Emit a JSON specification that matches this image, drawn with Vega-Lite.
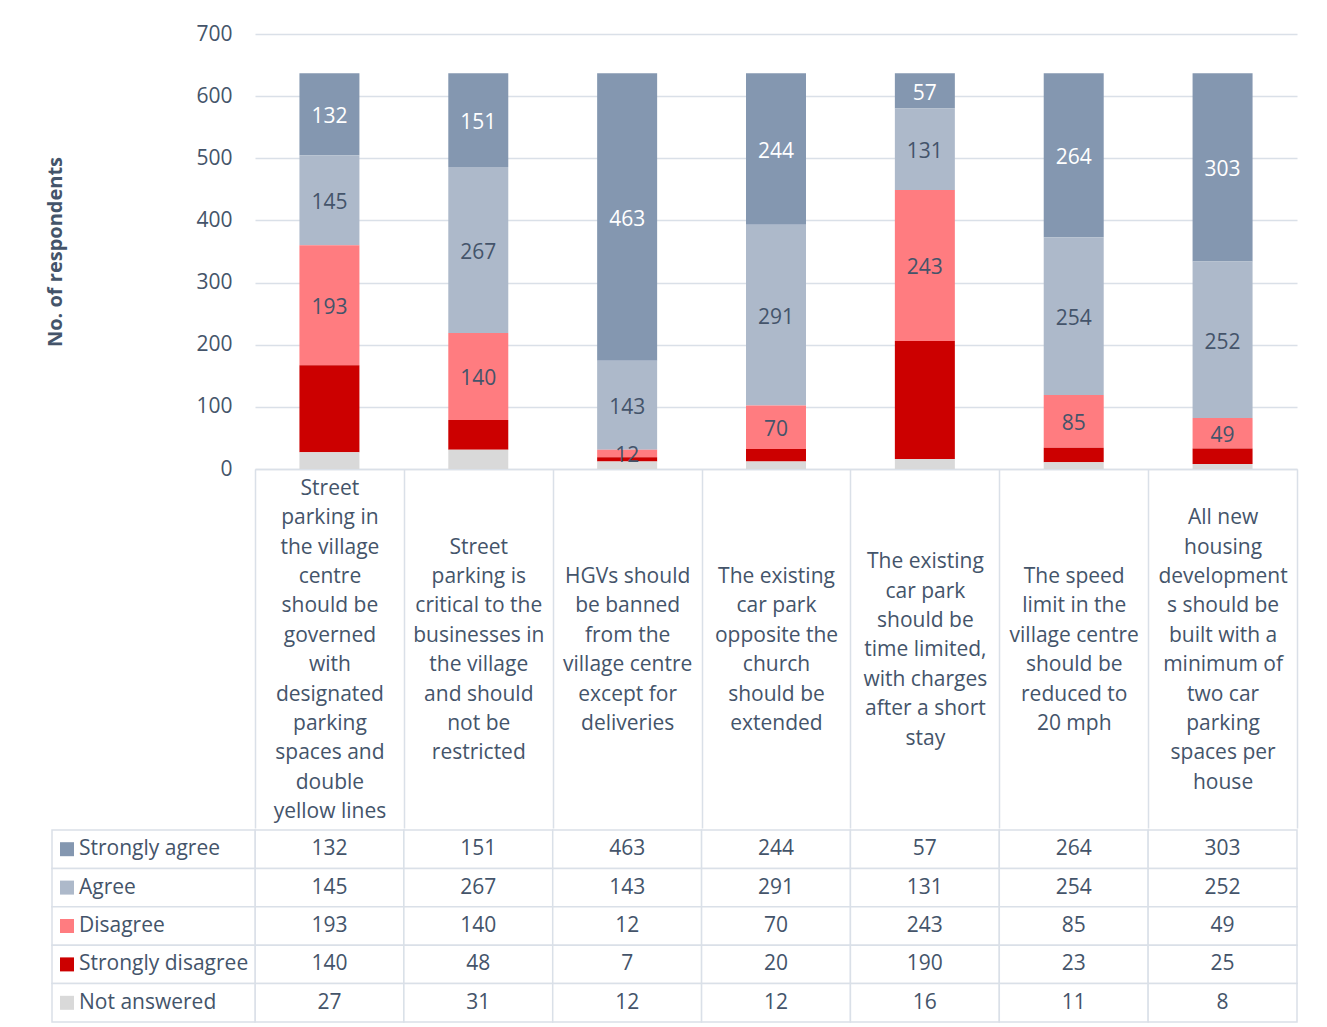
{
  "$schema": "https://vega.github.io/schema/vega-lite/v6.json",
  "padding": {"left": 45, "top": 23, "right": 5, "bottom": 5},
  "background": "white",
  "spacing": 0,
  "config": {"font": "Open Sans", "view": {"stroke": null}},
  "datasets": {
    "responses": [
      {"cat": "Street|parking in|the village|centre|should be|governed|with|designated|parking|spaces and|double|yellow lines", "series": "Strongly agree", "rank": 1, "value": 132},
      {"cat": "Street|parking is|critical to the|businesses in|the village|and should|not be|restricted", "series": "Strongly agree", "rank": 1, "value": 151},
      {"cat": "HGVs should|be banned|from the|village centre|except for|deliveries", "series": "Strongly agree", "rank": 1, "value": 463},
      {"cat": "The existing|car park|opposite the|church|should be|extended", "series": "Strongly agree", "rank": 1, "value": 244},
      {"cat": "The existing|car park|should be|time limited,|with charges|after a short|stay", "series": "Strongly agree", "rank": 1, "value": 57},
      {"cat": "The speed|limit in the|village centre|should be|reduced to|20 mph", "series": "Strongly agree", "rank": 1, "value": 264},
      {"cat": "All new|housing|development|s should be|built with a|minimum of|two car|parking|spaces per|house", "series": "Strongly agree", "rank": 1, "value": 303},
      {"cat": "Street|parking in|the village|centre|should be|governed|with|designated|parking|spaces and|double|yellow lines", "series": "Agree", "rank": 2, "value": 145},
      {"cat": "Street|parking is|critical to the|businesses in|the village|and should|not be|restricted", "series": "Agree", "rank": 2, "value": 267},
      {"cat": "HGVs should|be banned|from the|village centre|except for|deliveries", "series": "Agree", "rank": 2, "value": 143},
      {"cat": "The existing|car park|opposite the|church|should be|extended", "series": "Agree", "rank": 2, "value": 291},
      {"cat": "The existing|car park|should be|time limited,|with charges|after a short|stay", "series": "Agree", "rank": 2, "value": 131},
      {"cat": "The speed|limit in the|village centre|should be|reduced to|20 mph", "series": "Agree", "rank": 2, "value": 254},
      {"cat": "All new|housing|development|s should be|built with a|minimum of|two car|parking|spaces per|house", "series": "Agree", "rank": 2, "value": 252},
      {"cat": "Street|parking in|the village|centre|should be|governed|with|designated|parking|spaces and|double|yellow lines", "series": "Disagree", "rank": 3, "value": 193},
      {"cat": "Street|parking is|critical to the|businesses in|the village|and should|not be|restricted", "series": "Disagree", "rank": 3, "value": 140},
      {"cat": "HGVs should|be banned|from the|village centre|except for|deliveries", "series": "Disagree", "rank": 3, "value": 12},
      {"cat": "The existing|car park|opposite the|church|should be|extended", "series": "Disagree", "rank": 3, "value": 70},
      {"cat": "The existing|car park|should be|time limited,|with charges|after a short|stay", "series": "Disagree", "rank": 3, "value": 243},
      {"cat": "The speed|limit in the|village centre|should be|reduced to|20 mph", "series": "Disagree", "rank": 3, "value": 85},
      {"cat": "All new|housing|development|s should be|built with a|minimum of|two car|parking|spaces per|house", "series": "Disagree", "rank": 3, "value": 49},
      {"cat": "Street|parking in|the village|centre|should be|governed|with|designated|parking|spaces and|double|yellow lines", "series": "Strongly disagree", "rank": 4, "value": 140},
      {"cat": "Street|parking is|critical to the|businesses in|the village|and should|not be|restricted", "series": "Strongly disagree", "rank": 4, "value": 48},
      {"cat": "HGVs should|be banned|from the|village centre|except for|deliveries", "series": "Strongly disagree", "rank": 4, "value": 7},
      {"cat": "The existing|car park|opposite the|church|should be|extended", "series": "Strongly disagree", "rank": 4, "value": 20},
      {"cat": "The existing|car park|should be|time limited,|with charges|after a short|stay", "series": "Strongly disagree", "rank": 4, "value": 190},
      {"cat": "The speed|limit in the|village centre|should be|reduced to|20 mph", "series": "Strongly disagree", "rank": 4, "value": 23},
      {"cat": "All new|housing|development|s should be|built with a|minimum of|two car|parking|spaces per|house", "series": "Strongly disagree", "rank": 4, "value": 25},
      {"cat": "Street|parking in|the village|centre|should be|governed|with|designated|parking|spaces and|double|yellow lines", "series": "Not answered", "rank": 5, "value": 27},
      {"cat": "Street|parking is|critical to the|businesses in|the village|and should|not be|restricted", "series": "Not answered", "rank": 5, "value": 31},
      {"cat": "HGVs should|be banned|from the|village centre|except for|deliveries", "series": "Not answered", "rank": 5, "value": 12},
      {"cat": "The existing|car park|opposite the|church|should be|extended", "series": "Not answered", "rank": 5, "value": 12},
      {"cat": "The existing|car park|should be|time limited,|with charges|after a short|stay", "series": "Not answered", "rank": 5, "value": 16},
      {"cat": "The speed|limit in the|village centre|should be|reduced to|20 mph", "series": "Not answered", "rank": 5, "value": 11},
      {"cat": "All new|housing|development|s should be|built with a|minimum of|two car|parking|spaces per|house", "series": "Not answered", "rank": 5, "value": 8}
    ],
    "series": [
      {"series": "Strongly agree"},
      {"series": "Agree"},
      {"series": "Disagree"},
      {"series": "Strongly disagree"},
      {"series": "Not answered"}
    ]
  },
  "vconcat": [
    {
      "width": 1042,
      "height": 435,
      "data": {"name": "responses"},
      "encoding": {
        "x": {
          "field": "cat", "type": "nominal", "sort": null,
          "scale": {"paddingInner": 0, "paddingOuter": 0},
          "axis": {
            "title": null,
            "labelExpr": "split(datum.label, '|')",
            "labelAngle": 0,
            "labelFontSize": 21,
            "labelColor": "#44546A",
            "labelLineHeight": 29.4,
            "labelBaseline": "middle",
            "labelLimit": 400,
            "labelPadding": {
              "condition": [
                {"test": "length(split(datum.value, '|')) === 12", "value": -339.7},
                {"test": "length(split(datum.value, '|')) === 10", "value": -310.3},
                {"test": "length(split(datum.value, '|')) === 8", "value": -280.9},
                {"test": "length(split(datum.value, '|')) === 7", "value": -266.2}
              ],
              "value": -251.5
            },
            "tickBand": "extent",
            "tickSize": 359,
            "tickColor": "#DAE0E8",
            "tickWidth": 1.5,
            "domainColor": "#DAE0E8",
            "domainWidth": 1.5,
            "minExtent": 359,
            "maxExtent": 359
          }
        },
        "order": {"field": "rank", "sort": "descending"}
      },
      "layer": [
        {
          "mark": {"type": "bar", "width": {"band": 0.403}},
          "encoding": {
            "y": {
              "field": "value", "type": "quantitative", "stack": "zero",
              "scale": {"domain": [0, 700]},
              "axis": {
                "title": "No. of respondents",
                "values": [0, 100, 200, 300, 400, 500, 600, 700],
                "labelFontSize": 21,
                "labelColor": "#44546A",
                "labelPadding": 23,
                "ticks": false,
                "tickSize": 0,
                "domain": false,
                "gridColor": "#DAE0E8",
                "gridWidth": 1.5,
                "titleFontSize": 20,
                "titleFontWeight": "bold",
                "titleColor": "#44546A",
                "titlePadding": 131,
                "minExtent": 59,
                "maxExtent": 59
              }
            },
            "color": {
              "field": "series", "type": "nominal",
              "scale": {
                "domain": ["Strongly agree", "Agree", "Disagree", "Strongly disagree", "Not answered"],
                "range": ["#8497B0", "#ADB9CA", "#FF7C80", "#CC0000", "#D9D9D9"]
              },
              "legend": null
            }
          }
        },
        {
          "mark": {"type": "text", "fontSize": 21, "baseline": "middle", "dy": 3},
          "encoding": {
            "y": {
              "field": "value", "type": "quantitative", "stack": "zero", "bandPosition": 0.5,
              "scale": {"domain": [0, 700]},
              "axis": {
                "title": "No. of respondents",
                "values": [0, 100, 200, 300, 400, 500, 600, 700],
                "labelFontSize": 21,
                "labelColor": "#44546A",
                "labelPadding": 23,
                "ticks": false,
                "tickSize": 0,
                "domain": false,
                "gridColor": "#DAE0E8",
                "gridWidth": 1.5,
                "titleFontSize": 20,
                "titleFontWeight": "bold",
                "titleColor": "#44546A",
                "titlePadding": 131,
                "minExtent": 59,
                "maxExtent": 59
              }
            },
            "text": {"field": "value", "type": "quantitative"},
            "color": {"condition": {"test": "datum.series === 'Strongly agree'", "value": "#FFFFFF"}, "value": "#44546A"},
            "opacity": {"condition": {"test": "datum.rank >= 4", "value": 0}, "value": 1}
          }
        }
      ]
    },
    {
      "width": 1042,
      "height": 192,
      "data": {"name": "responses"},
      "resolve": {"scale": {"x": "independent"}},
      "layer": [
        {
          "mark": {"type": "rect", "fill": "white", "stroke": "#DAE0E8", "strokeWidth": 1.5},
          "encoding": {
            "x": {"field": "cat", "type": "nominal", "sort": null, "scale": {"paddingInner": 0, "paddingOuter": 0}, "axis": null},
            "y": {"field": "series", "type": "nominal", "sort": ["Strongly agree", "Agree", "Disagree", "Strongly disagree", "Not answered"], "scale": {"paddingInner": 0, "paddingOuter": 0}, "axis": null}
          }
        },
        {
          "mark": {"type": "text", "fontSize": 21, "color": "#44546A", "baseline": "middle"},
          "encoding": {
            "x": {"field": "cat", "type": "nominal", "sort": null, "scale": {"paddingInner": 0, "paddingOuter": 0}, "axis": null},
            "y": {"field": "series", "type": "nominal", "sort": ["Strongly agree", "Agree", "Disagree", "Strongly disagree", "Not answered"], "scale": {"paddingInner": 0, "paddingOuter": 0}, "axis": null},
            "text": {"field": "value", "type": "quantitative"}
          }
        },
        {
          "data": {"name": "series"},
          "layer": [
            {
              "mark": {"type": "rect", "fill": "white", "stroke": "#DAE0E8", "strokeWidth": 1.5},
              "encoding": {
                "x": {"datum": "legend", "type": "nominal", "scale": {"domain": ["legend"], "range": [-203, 0], "paddingInner": 0, "paddingOuter": 0}, "axis": null},
                "y": {"field": "series", "type": "nominal", "sort": ["Strongly agree", "Agree", "Disagree", "Strongly disagree", "Not answered"], "scale": {"paddingInner": 0, "paddingOuter": 0}, "axis": null}
              }
            },
            {
              "mark": {"type": "point", "shape": "square", "filled": true, "size": 196, "opacity": 1},
              "encoding": {
                "x": {"datum": "legend", "type": "nominal", "bandPosition": 0.074, "scale": {"domain": ["legend"], "range": [-203, 0], "paddingInner": 0, "paddingOuter": 0}, "axis": null},
                "y": {"field": "series", "type": "nominal", "sort": ["Strongly agree", "Agree", "Disagree", "Strongly disagree", "Not answered"], "scale": {"paddingInner": 0, "paddingOuter": 0}, "axis": null},
                "color": {
                  "field": "series", "type": "nominal",
                  "scale": {
                    "domain": ["Strongly agree", "Agree", "Disagree", "Strongly disagree", "Not answered"],
                    "range": ["#8497B0", "#ADB9CA", "#FF7C80", "#CC0000", "#D9D9D9"]
                  },
                  "legend": null
                }
              }
            },
            {
              "mark": {"type": "text", "align": "left", "baseline": "middle", "fontSize": 21, "color": "#44546A"},
              "encoding": {
                "x": {"datum": "legend", "type": "nominal", "bandPosition": 0.133, "scale": {"domain": ["legend"], "range": [-203, 0], "paddingInner": 0, "paddingOuter": 0}, "axis": null},
                "y": {"field": "series", "type": "nominal", "sort": ["Strongly agree", "Agree", "Disagree", "Strongly disagree", "Not answered"], "scale": {"paddingInner": 0, "paddingOuter": 0}, "axis": null},
                "text": {"field": "series"}
              }
            }
          ]
        }
      ]
    }
  ]
}
